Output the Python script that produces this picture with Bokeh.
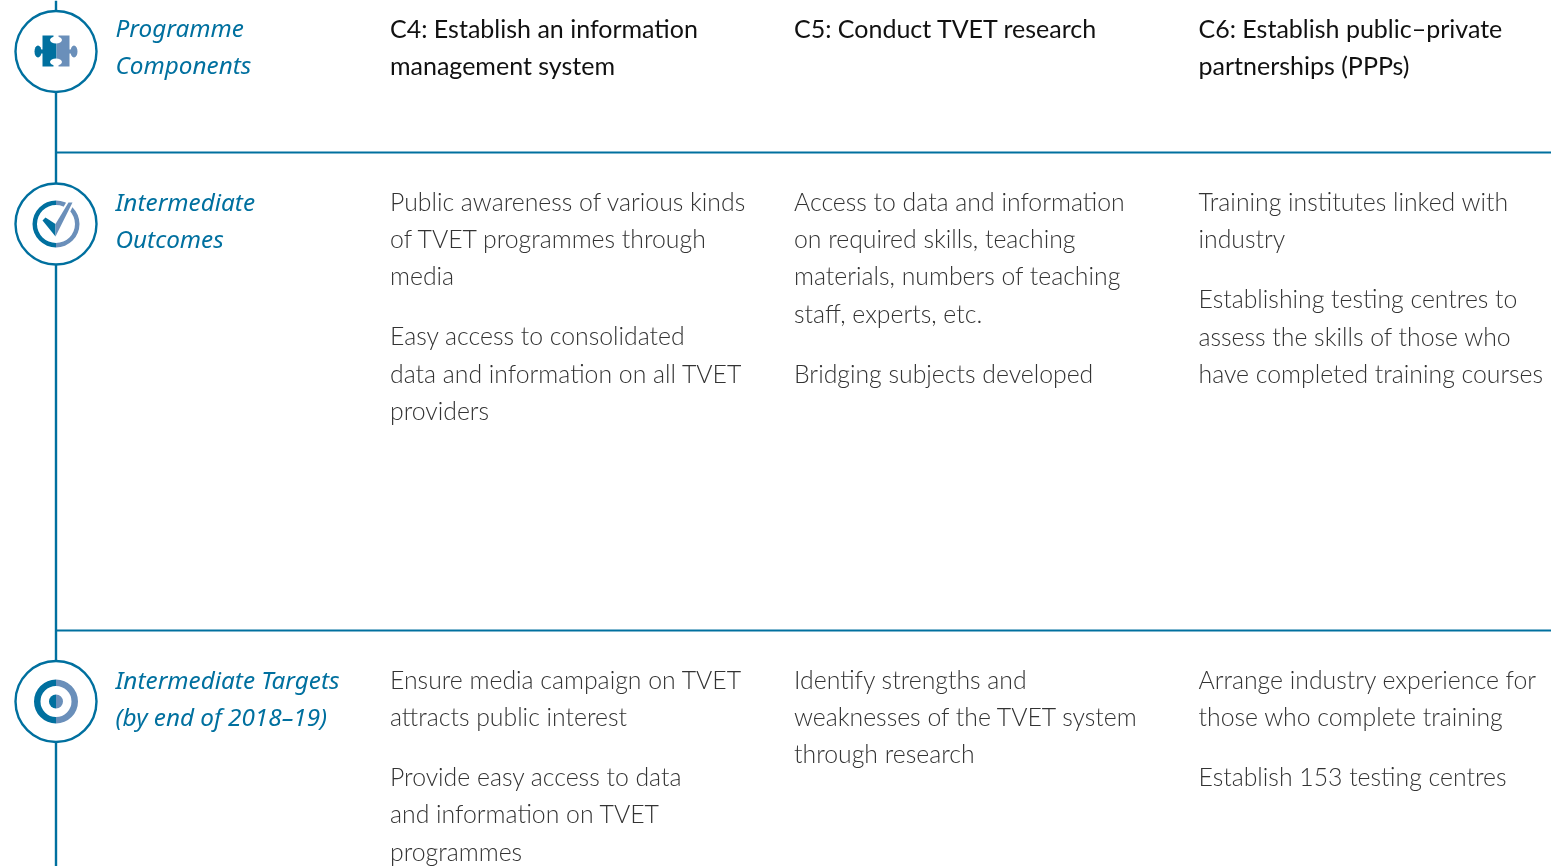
from bokeh.plotting import figure
from bokeh.embed import file_html
from bokeh.resources import INLINE
from bokeh.core.properties import value

W, H = 1551, 866
BLUE = "#00709f"
LIGHT = "#6a8fba"
BODY = "#333333"
HEAD = "#111111"
LABEL_FONT = "Noto Sans"
BODY_FONT = "Lato Light"
HEAD_FONT = "Lato"

row_labels = [["Programme", "Components"], ["Intermediate", "Outcomes"], ["Intermediate Targets", "(by end of 2018\u201319)"]]
label_rows = [[28, 65], [202, 239], [680, 717]]

col_x = [390.5, 794.5, 1199]
headers = [["C4: Establish an information", "management system"], ["C5: Conduct TVET research"], ["C6: Establish public\u2013private", "partnerships (PPPs)"]]
outcomes = [
    ["Public awareness of various kinds", "of TVET programmes through", "media", "Easy access to consolidated", "data and information on all TVET", "providers"],
    ["Access to data and information", "on required skills, teaching", "materials, numbers of teaching", "staff, experts, etc.", "Bridging subjects developed"],
    ["Training institutes linked with", "industry", "Establishing testing centres to", "assess the skills of those who", "have completed training courses"],
]
outcome_y = [[202, 239, 276, 336, 374, 411], [202, 239, 276, 314, 374], [202, 239, 299, 337, 374]]
targets = [
    ["Ensure media campaign on TVET", "attracts public interest", "Provide easy access to data", "and information on TVET", "programmes"],
    ["Identify strengths and", "weaknesses of the TVET system", "through research"],
    ["Arrange industry experience for", "those who complete training", "Establish 153 testing centres"],
]
target_y = [[680, 717, 777, 814, 852], [680, 717, 754], [680, 717, 777]]
header_y = [28, 65]
icon_y = [51, 223.5, 701]
rule_y = [152, 630]

p = figure(width=W, height=H, x_range=(0, W), y_range=(H, 0), output_backend="svg", toolbar_location=None,
           min_border=0, outline_line_color=None, styles={"position": "fixed", "left": "0px", "top": "0px"})
p.xaxis.visible = False
p.yaxis.visible = False
p.grid.visible = False
p.background_fill_color = "white"

p.line([55.5, 55.5], [0, H], line_color=BLUE, line_width=2.4)
p.segment([56] * 2, rule_y, [W] * 2, rule_y, line_color=BLUE, line_width=2)
p.circle(x=[55.5] * 3, y=icon_y, radius=40.5, fill_color="white", line_color=BLUE, line_width=2.4)

# puzzle icon
cy = icon_y[0]
p.quad(left=42, right=56, top=cy - 16, bottom=cy + 15, fill_color=BLUE, line_color=None)
p.quad(left=56, right=69, top=cy - 16, bottom=cy + 15, fill_color=LIGHT, line_color=None)
p.ellipse(x=[37.5], y=[cy], width=7, height=12, fill_color=BLUE, line_color=None)
p.ellipse(x=[73.5], y=[cy], width=7, height=12, fill_color=LIGHT, line_color=None)
p.quad(left=[36, 68], right=[43, 75], top=[cy - 2, cy - 2], bottom=[cy + 2, cy + 2], fill_color=[BLUE, LIGHT], line_color=None)
p.ellipse(x=[55.5, 55.5], y=[cy - 11.5, cy + 10.5], width=12, height=7, fill_color="white", line_color=None)
p.quad(left=[53, 53], right=[58, 58], top=[cy - 17, cy + 10], bottom=[cy - 11, cy + 16], fill_color="white", line_color=None)

# check icon
cy = icon_y[1]
p.annular_wedge(x=[55.5, 55.5], y=[cy, cy], inner_radius=19, outer_radius=23.5, start_angle=[-1.5708, 1.5708], end_angle=[1.5708, -1.5708],
                fill_color=[LIGHT, BLUE], line_color=None)
p.patch([55, 68, 72, 55], [cy, cy - 21.5, cy - 21.5, cy + 12.5], fill_color="white", line_color="white", line_width=4)
p.patch([42, 45, 55, 55], [cy - 3.5, cy - 6.5, cy, cy + 12.5], fill_color=BLUE, line_color=None)
p.patch([55, 68, 72, 55], [cy, cy - 21.5, cy - 21.5, cy + 12.5], fill_color=LIGHT, line_color=None)

# target icon
cy = icon_y[2]
p.annular_wedge(x=[55.5, 55.5], y=[cy, cy], inner_radius=[15.5, 15.5], outer_radius=[22, 22], start_angle=[-1.5708, 1.5708], end_angle=[1.5708, -1.5708],
                fill_color=[LIGHT, BLUE], line_color=None)
p.wedge(x=[55.5, 55.5], y=[cy, cy], radius=7, start_angle=[-1.5708, 1.5708], end_angle=[1.5708, -1.5708], fill_color=[LIGHT, BLUE], line_color=None)


def put(x, ys, lines, font, size, color, style="normal"):
    p.text(x=[x - 1] * len(lines), y=[v - 1 for v in ys], text=lines, text_font=value(font), text_font_size=size,
           text_color=color, text_font_style=style, text_baseline="middle")


for lines, ys in zip(row_labels, label_rows):
    put(116, ys, lines, LABEL_FONT, "24.3px", BLUE, "italic")
for x, lines in zip(col_x, headers):
    put(x, header_y[:len(lines)], lines, HEAD_FONT, "25px", HEAD)
for x, lines, ys in zip(col_x, outcomes, outcome_y):
    put(x, ys, lines, BODY_FONT, "24.8px", BODY)
for x, lines, ys in zip(col_x, targets, target_y):
    put(x, ys, lines, BODY_FONT, "24.8px", BODY)

open("out.html", "w").write(file_html(p, INLINE))
